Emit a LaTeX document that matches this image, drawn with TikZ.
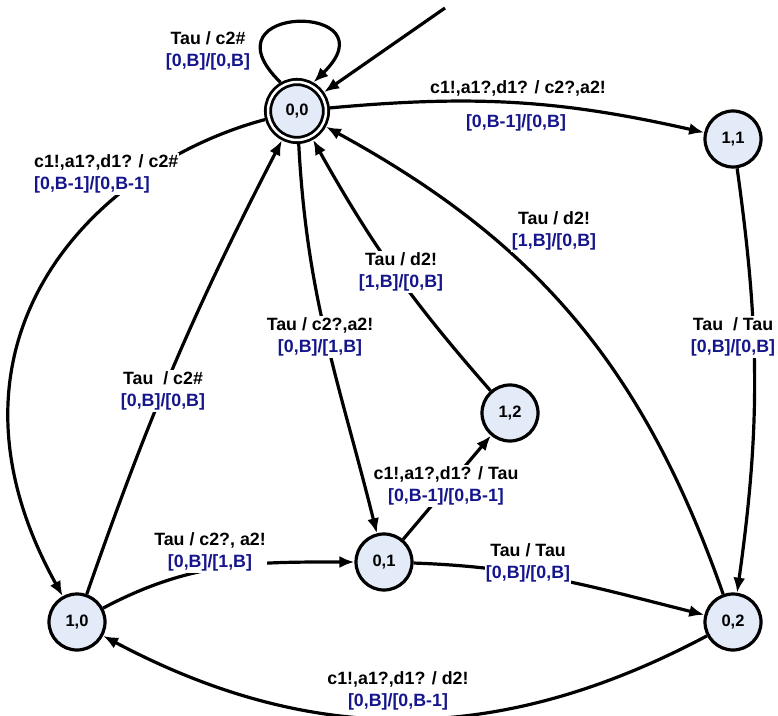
\documentclass[tikz,border=0pt]{standalone}
\usepackage{fontspec}
\setmainfont{Liberation Sans}
\usetikzlibrary{arrows.meta}
\definecolor{statefill}{RGB}{228,235,248}
\definecolor{guardblue}{RGB}{22,22,140}
\newcommand{\guard}[1]{\textcolor{guardblue}{#1}}
\begin{document}
\begin{tikzpicture}[x=1pt,y=1pt,
  state/.style={circle,draw,line width=3.2pt,fill=statefill,minimum size=56pt,
    inner sep=0pt,font=\fontsize{16.5}{18}\selectfont\bfseries},
  initstate/.style={state,line width=2.8pt,double=white,double distance=2.5pt,
    minimum size=58pt,outer sep=4pt},
  edge/.style={line width=3.2pt,-{Latex[length=15pt,width=12pt]}},
  lbl/.style={fill=white,inner sep=1pt,align=center,
    font=\fontsize{17.8}{22.5}\selectfont\bfseries},
]
% canvas
\fill[white] (0,0) rectangle (778,715);
\useasboundingbox (0,0) rectangle (778,715);

% states
\node[initstate] (n00) at (297,604) {0,0};
\node[state] (n11) at (733,576) {1,1};
\node[state] (n12) at (510,302) {1,2};
\node[state] (n01) at (384,153) {0,1};
\node[state] (n10) at (77,93)   {1,0};
\node[state] (n02) at (733,93)  {0,2};
\coordinate (init) at (445,707);

% transitions
\draw[edge] (init) -- (n00);
\draw[edge] (n00.120) .. controls +(-82,80) and +(82,80) .. (n00.60);
\draw[edge] (n00) to[bend left=9] (n11);
\draw[edge] (n00.195) .. controls +(195:180) and +(119:290) .. (n10.119);
\draw[edge] (n10) to[bend left=4] (n00);
\draw[edge] (n00) to[out=-87,in=104] (n01);
\draw[edge] (n12) to[bend left=6] (n00);
\draw[edge] (n01) -- (n12);
\draw[edge] (n02) to[bend right=21] (n00);
\draw[edge] (n11) to[bend left=8] (n02);
\draw[edge] (n10) to[out=28,in=180] (n01);
\draw[edge] (n01) to[out=-2,in=166] (n02);
\draw[edge] (n02) to[bend left=28] (n10);

% labels
\node[lbl] (lloop) at (208,664) {Tau / c2\#\\\guard{[0,B]/[0,B]}};
\node[lbl] (l1a) at (518,627) {c1!,a1?,d1? / c2?,a2!};
\node[lbl] (l1b) at (516,592) {\guard{[0,B-1]/[0,B]}};
\node[lbl,align=left,anchor=west] (l2) at (33,541) {c1!,a1?,d1? / c2\#\\\guard{[0,B-1]/[0,B-1]}};
\node[lbl] (l3) at (163,324) {Tau\ \ / c2\#\\\guard{[0,B]/[0,B]}};
\node[lbl] (l4) at (320,378) {Tau / c2?,a2!\\\guard{[0,B]/[1,B]}};
\node[lbl] (l5) at (401,443) {Tau / d2!\\\guard{[1,B]/[0,B]}};
\node[lbl] (l6) at (446,229) {c1!,a1?,d1? / Tau\\\guard{[0,B-1]/[0,B-1]}};
\node[lbl] (l7) at (554,484) {Tau / d2!\\\guard{[1,B]/[0,B]}};
\node[lbl] (l8) at (733,378) {Tau\ \ / Tau\\\guard{[0,B]/[0,B]}};
\node[lbl] (l9) at (210,163) {Tau / c2?, a2!\\\guard{[0,B]/[1,B]}};
\node[lbl] (l10) at (528,152) {Tau / Tau\\\guard{[0,B]/[0,B]}};
\node[lbl] (l11) at (398,24) {c1!,a1?,d1? / d2!\\\guard{[0,B]/[0,B-1]}};
\end{tikzpicture}
\end{document}
